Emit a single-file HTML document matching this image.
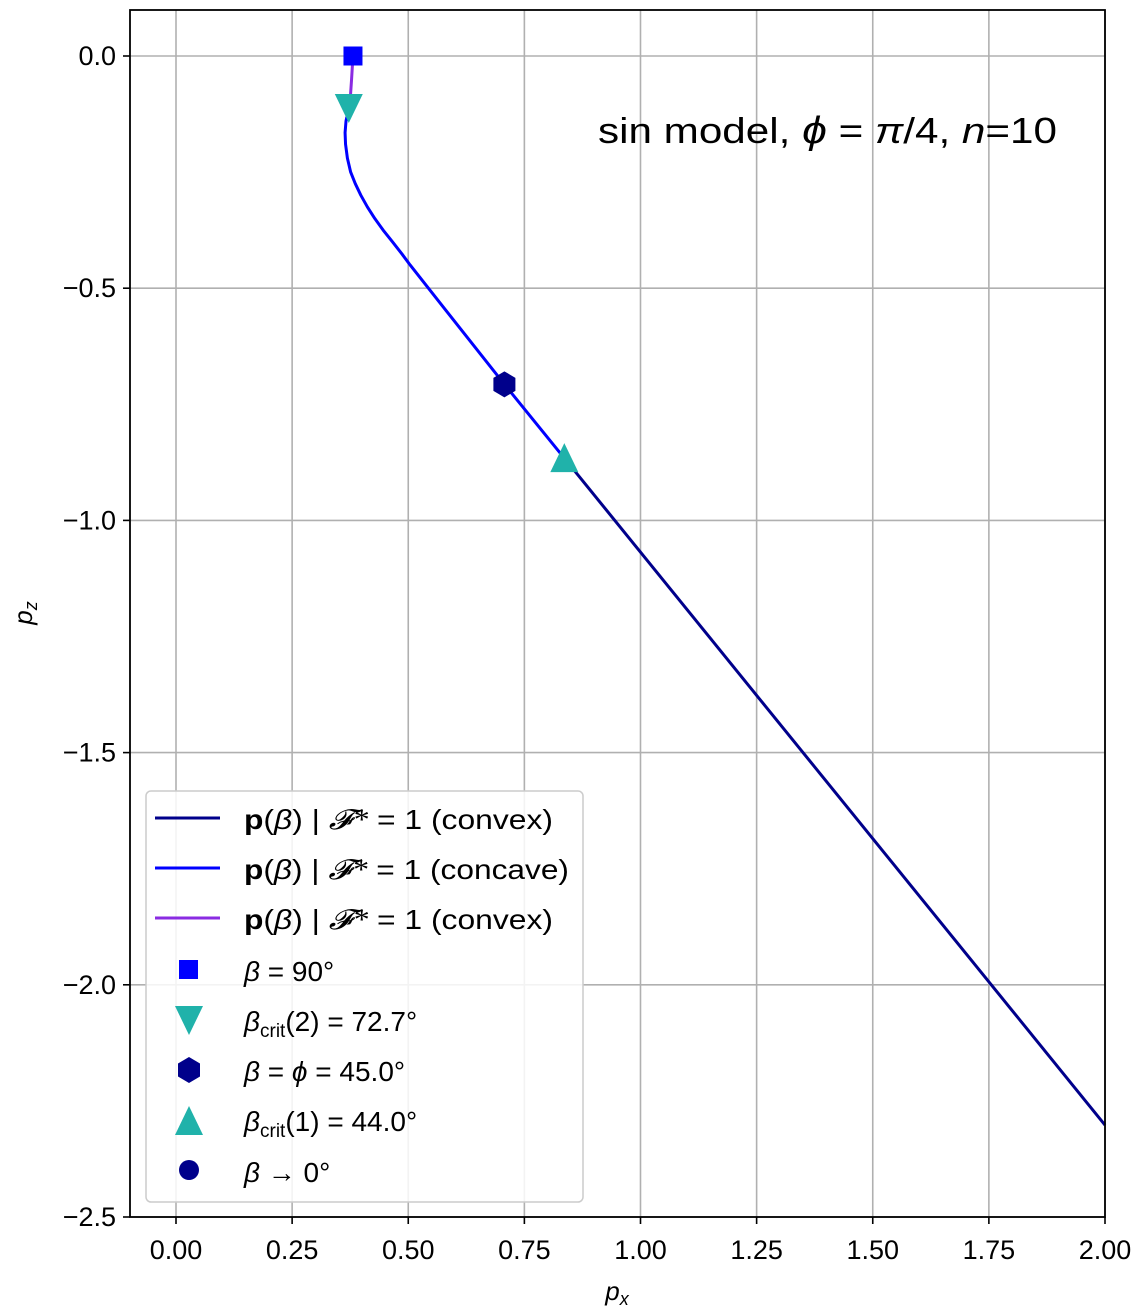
<!DOCTYPE html>
<html><head><meta charset="utf-8"><style>
body{margin:0;background:#fff}
svg{display:block;font-family:"Liberation Sans","DejaVu Sans",sans-serif}
</style></head><body>
<svg id="c" width="1145" height="1316" viewBox="0 0 1145 1316">
<g id="grid"></g><g id="ticks"></g><g id="series"></g>
<rect x="130" y="10" width="975" height="1207" fill="none" stroke="#000" stroke-width="1.8"/>
<text x="598" y="143" font-size="36" textLength="459" lengthAdjust="spacingAndGlyphs">sin model, <tspan font-style="italic" font-size="38">ϕ</tspan> = <tspan font-style="italic">π</tspan>/4, <tspan font-style="italic">n</tspan>=10</text>
<text x="617" y="1300" font-size="26" font-style="italic" text-anchor="middle">p<tspan font-size="18" dy="5">x</tspan></text>
<text transform="translate(32,613) rotate(-90)" font-size="26" font-style="italic" text-anchor="middle">p<tspan font-size="18" dy="5">z</tspan></text>
<g>
<rect x="146" y="791" width="437" height="411" rx="5" fill="#fff" fill-opacity="0.85" stroke="#ccc" stroke-width="1.5"/>
<g font-size="28">
<line x1="155" y1="818" x2="220" y2="818" stroke="#00008b" stroke-width="3"/>
<text x="244" y="829" textLength="309" lengthAdjust="spacingAndGlyphs"><tspan font-weight="bold">p</tspan>(<tspan font-style="italic">β</tspan>) | <tspan font-style="italic" font-family="Liberation Serif,serif">𝓕*</tspan> = 1 (convex)</text>
<line x1="155" y1="868" x2="220" y2="868" stroke="#0000ff" stroke-width="3"/>
<text x="244" y="879" textLength="325" lengthAdjust="spacingAndGlyphs"><tspan font-weight="bold">p</tspan>(<tspan font-style="italic">β</tspan>) | <tspan font-style="italic" font-family="Liberation Serif,serif">𝓕*</tspan> = 1 (concave)</text>
<line x1="155" y1="918" x2="220" y2="918" stroke="#8a2be2" stroke-width="3"/>
<text x="244" y="929" textLength="309" lengthAdjust="spacingAndGlyphs"><tspan font-weight="bold">p</tspan>(<tspan font-style="italic">β</tspan>) | <tspan font-style="italic" font-family="Liberation Serif,serif">𝓕*</tspan> = 1 (convex)</text>
<rect x="179" y="960" width="19" height="19" fill="#0000ff"/>
<text x="244" y="981"><tspan font-style="italic">β</tspan> = 90°</text>
<polygon points="175,1006 203,1006 189,1035" fill="#20b2aa"/>
<text x="244" y="1031"><tspan font-style="italic">β</tspan><tspan font-size="19" dy="6">crit</tspan><tspan dy="-6">(2) = 72.7°</tspan></text>
<polygon points="189,1057 200,1063.5 200,1076.5 189,1083 178,1076.5 178,1063.5" fill="#00008b"/>
<text x="244" y="1081"><tspan font-style="italic">β</tspan> = <tspan font-style="italic">ϕ</tspan> = 45.0°</text>
<polygon points="189,1106 203,1135 175,1135" fill="#20b2aa"/>
<text x="244" y="1131"><tspan font-style="italic">β</tspan><tspan font-size="19" dy="6">crit</tspan><tspan dy="-6">(1) = 44.0°</tspan></text>
<circle cx="189" cy="1170" r="10" fill="#00008b"/>
<text x="244" y="1182"><tspan font-style="italic">β</tspan> → 0°</text>
</g></g>
</svg>
<script>
const xTicks=[0,0.25,0.5,0.75,1,1.25,1.5,1.75,2];
const xTickLabels=["0.00","0.25","0.50","0.75","1.00","1.25","1.50","1.75","2.00"];
const yTicks=[0,-0.5,-1,-1.5,-2,-2.5];
const yTickLabels=["0.0","−0.5","−1.0","−1.5","−2.0","−2.5"];
const purpleX=[0.381,0.378,0.375,0.372];
const purpleZ=[0,-0.05,-0.094,-0.112];
const concaveX=[0.372,0.366,0.364,0.365,0.369,0.376,0.386,0.398,0.412,0.428,0.446,0.466,0.487,0.504,0.575,0.707,0.836];
const concaveZ=[-0.112,-0.14,-0.165,-0.19,-0.22,-0.25,-0.275,-0.30,-0.325,-0.35,-0.375,-0.40,-0.427,-0.45,-0.54,-0.707,-0.866];
const convexX=[0.836,2.0];
const convexZ=[-0.866,-2.302];
const markerX=[0.381,0.372,0.707,0.836];
const markerZ=[0,-0.112,-0.707,-0.866];
const sx=v=>176+v*464.5, sy=v=>56-v*464.4;
const NS="http://www.w3.org/2000/svg";
const grid=document.getElementById('grid'),ticks=document.getElementById('ticks'),ser=document.getElementById('series');
function mk(t,a,p){const e=document.createElementNS(NS,t);for(const k in a)e.setAttribute(k,a[k]);p.appendChild(e);return e;}
xTicks.forEach((v,i)=>{const x=sx(v);
 const g=mk('line',{x1:x,x2:x,y1:10,y2:1217,stroke:'#b0b0b0','stroke-width':1.6},grid);
 
 
 const t=mk('line',{x1:x,x2:x,y1:1217,y2:1224,stroke:'#000','stroke-width':1.6},ticks);
 
 
 const l=mk('text',{x:x,y:1259,'font-size':27,'text-anchor':'middle'},ticks);l.textContent=xTickLabels[i];
 
 });
yTicks.forEach((v,i)=>{const y=sy(v);
 const g=mk('line',{x1:130,x2:1105,y1:y,y2:y,stroke:'#b0b0b0','stroke-width':1.6},grid);
 
 
 const t=mk('line',{x1:123,x2:130,y1:y,y2:y,stroke:'#000','stroke-width':1.6},ticks);
 
 
 const l=mk('text',{x:116,y:y+9,'font-size':27,'text-anchor':'end'},ticks);l.textContent=yTickLabels[i];
 
 });
function line(X,Z,c,n){const p=mk('polyline',{points:X.map((v,i)=>sx(v)+','+sy(Z[i])).join(' '),fill:'none',stroke:c,'stroke-width':3,'stroke-linejoin':'round'},ser);
 
 }
line(convexX,convexZ,'#00008b','convex-line-lower');
line(concaveX,concaveZ,'#0000ff','concave-line');
line(purpleX,purpleZ,'#8a2be2','convex-line-upper');
let x,y,m;
x=sx(markerX[0]);y=sy(markerZ[0]);
m=mk('rect',{x:x-9.5,y:y-9.5,width:19,height:19,fill:'#0000ff'},ser);


x=sx(markerX[1]);y=sy(markerZ[1]);
m=mk('polygon',{points:`${x-14},${y-14} ${x+14},${y-14} ${x},${y+15}`,fill:'#20b2aa'},ser);


x=sx(markerX[2]);y=sy(markerZ[2]);
m=mk('polygon',{points:`${x},${y-13} ${x+11},${y-6.5} ${x+11},${y+6.5} ${x},${y+13} ${x-11},${y+6.5} ${x-11},${y-6.5}`,fill:'#00008b'},ser);


x=sx(markerX[3]);y=sy(markerZ[3]);
m=mk('polygon',{points:`${x},${y-15} ${x+14},${y+14} ${x-14},${y+14}`,fill:'#20b2aa'},ser);


</script>
</body></html>
